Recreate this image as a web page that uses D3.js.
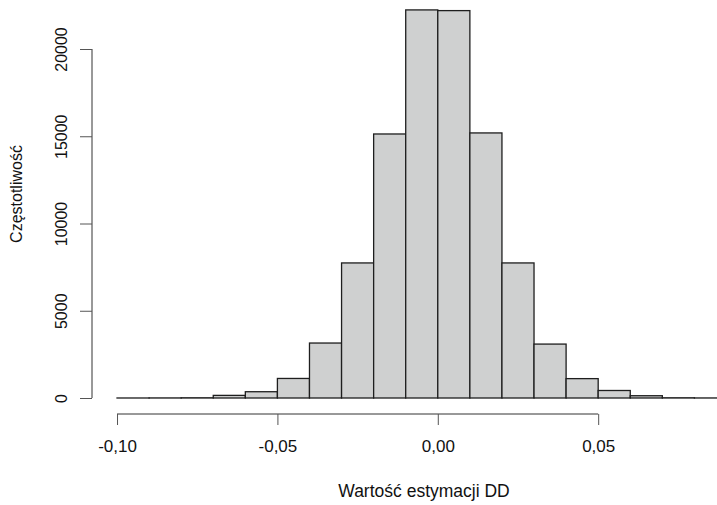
<!DOCTYPE html>
<html>
<head>
<meta charset="utf-8">
<script src="https://cdn.jsdelivr.net/npm/d3@7"></script>
<style>
  body { margin: 0; background: #fff; }
  svg { display: block; font-family: "Liberation Sans", Arial, sans-serif; }
  .axis text { font-family: "Liberation Sans", Arial, sans-serif; fill: #111; }
</style>
</head>
<body>
<svg id="plot" width="717" height="505"></svg>
<script>
// histogram bins (left edge, width 0.01) and counts
const binStarts = [-0.10, -0.09, -0.08, -0.07, -0.06, -0.05, -0.04, -0.03, -0.02, -0.01,
                   0.00, 0.01, 0.02, 0.03, 0.04, 0.05, 0.06, 0.07, 0.08];
const counts = [1, 4, 12, 150, 360, 1120, 3150, 7740, 15130, 22240,
                22200, 15190, 7740, 3090, 1110, 430, 130, 12, 3];
const binWidth = 0.01;
const xTicks = [-0.10, -0.05, 0.00, 0.05];
const yTicks = [0, 5000, 10000, 15000, 20000];
const xLabel = "Wartość estymacji DD";
const yLabel = "Częstotliwość";

const data = binStarts.map((x0, i) => ({ x0, x1: x0 + binWidth, n: counts[i] }));

const svg = d3.select("#plot");
const plot = { left: 92, right: 756, bottom: 398, top: 49 };

const scale = {
  x: d3.scaleLinear([-0.1078, 0.0992], [plot.left, plot.right]),
  y: d3.scaleLinear([0, 20000], [plot.bottom, plot.top]),
};

const fmt = (d) => d3.format(".2f")(d).replace(".", ",").replace("−", "-");

// bars
svg.append("g")
  .selectAll("rect")
  .data(data)
  .join("rect")
  .attr("x", (d) => scale.x(d.x0))
  .attr("width", (d) => scale.x(d.x1) - scale.x(d.x0))
  .attr("y", (d) => scale.y(d.n))
  .attr("height", (d) => scale.y(0) - scale.y(d.n))
  .attr("fill", "#cfd0d0")
  .attr("stroke", "#1e1e1e")
  .attr("stroke-width", 1.3);

// x axis (R style: line only between first and last tick)
const gx = svg.append("g")
  .attr("class", "axis")
  .attr("transform", "translate(0, 414)")
  .call(d3.axisBottom(scale.x).tickValues(xTicks).tickSize(11).tickPadding(15).tickFormat(fmt));
gx.select(".domain")
  .attr("d", `M${scale.x(xTicks[0])},0H${scale.x(xTicks[xTicks.length - 1])}`)
  .attr("stroke", "#333");
gx.selectAll(".tick line").attr("stroke", "#555");
gx.selectAll(".tick text").attr("font-size", 17);

// y axis with rotated labels
const gy = svg.append("g")
  .attr("class", "axis")
  .attr("transform", `translate(${plot.left}, 0)`)
  .call(d3.axisLeft(scale.y).tickValues(yTicks).tickSize(12).tickFormat(d3.format("d")));
gy.select(".domain")
  .attr("d", `M0,${scale.y(yTicks[0])}V${scale.y(yTicks[yTicks.length - 1])}`)
  .attr("stroke", "#333");
gy.selectAll(".tick line").attr("stroke", "#555");
gy.selectAll(".tick text")
  .attr("font-size", 16)
  .attr("transform", "rotate(-90)")
  .attr("x", 0)
  .attr("y", -25)
  .attr("dy", 0)
  .attr("text-anchor", "middle");

// axis titles
svg.append("text")
  .attr("x", 424)
  .attr("y", 497)
  .attr("text-anchor", "middle")
  .attr("font-size", 17.5)
  .attr("fill", "#111")
  .text(xLabel);

svg.append("text")
  .attr("transform", "translate(22, 194) rotate(-90)")
  .attr("text-anchor", "middle")
  .attr("font-size", 16)
  .attr("fill", "#111")
  .text(yLabel);
</script>
</body>
</html>
